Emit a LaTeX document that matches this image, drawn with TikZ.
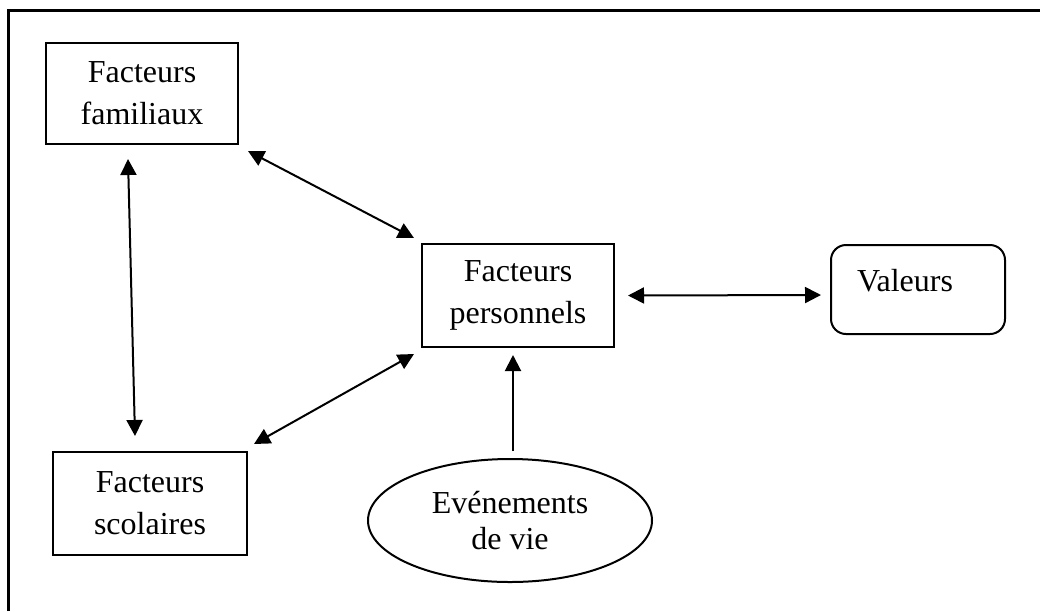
\documentclass[tikz,border=0pt]{standalone}
\usepackage{fontspec}
\setmainfont{Liberation Serif}
\usetikzlibrary{arrows.meta,shapes.geometric}
\tikzset{
  box/.style={draw, line width=2pt, rectangle, inner sep=0pt, align=center,
    font=\fontsize{32}{42}\selectfont},
  oval/.style={draw, line width=2pt, ellipse, inner sep=0pt, align=center,
    font=\fontsize{32}{36}\selectfont},
  link/.style={line width=2pt, {Triangle[length=16pt,width=16pt]}-{Triangle[length=16pt,width=16pt]}},
  onelink/.style={line width=2pt, -{Triangle[length=16pt,width=16pt]}},
}
\begin{document}
\begin{tikzpicture}[x=1pt,y=-1pt]
\useasboundingbox (0,0) rectangle (1040,611);
\draw[line width=3pt] (8,611) -- (8,10) -- (1040,10);

\node[box, minimum width=192pt, minimum height=101pt] (fam) at (142,93.5) {Facteurs\\familiaux};
\node[box, minimum width=194pt, minimum height=103pt] (sco) at (150,503.5) {Facteurs\\scolaires};
\node[box, minimum width=192pt, minimum height=103pt] (per) at (518,295.5) {Facteurs\\personnels};
\node[draw, line width=2pt, rounded corners=15pt, inner xsep=26pt, inner ysep=0pt,
  text width=122pt, align=left, text height=46pt, text depth=43pt,
  font=\fontsize{32}{42}\selectfont] (val) at (918,289.5) {Valeurs};
\node[oval, minimum width=284pt, minimum height=123pt] (ev) at (510,520.5) {Evénements\\de vie};

\draw[link] ([shift={(9,6)}]fam.south east) -- ([shift={(-7,-5)}]per.north west);
\draw[link] ([shift={(-14,14)}]fam.south) -- ([shift={(-15,-15)}]sco.north);
\draw[link] ([shift={(6,-7)}]sco.north east) -- ([shift={(-7,6)}]per.south west);
\draw[link] ([shift={(13,0)}]per.east) -- ([shift={(-9,5.5)}]val.west);
\draw[onelink] ([shift={(3,-7)}]ev.north) -- ([shift={(-5,7)}]per.south);
\end{tikzpicture}
\end{document}
